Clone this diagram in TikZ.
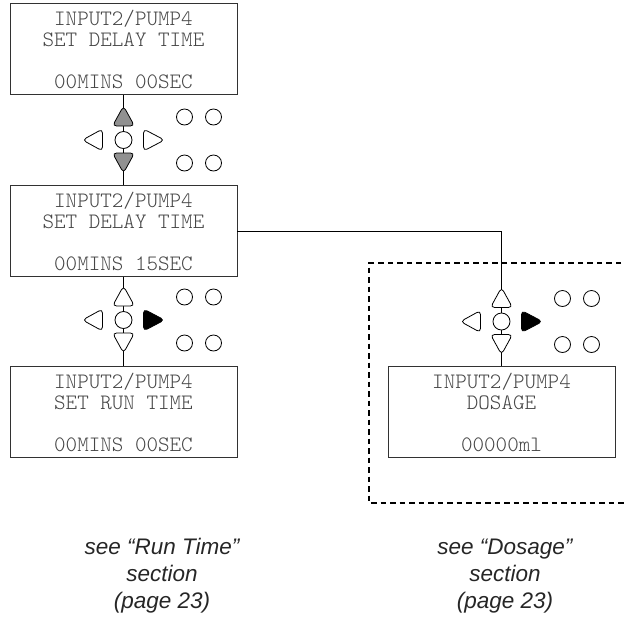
\documentclass[tikz,border=0pt]{standalone}
\usepackage{fontspec}
\usepackage{tikz}
\usetikzlibrary{positioning}
\usepackage{xcolor}
\newfontfamily\lcdfont{lmmonolt10-regular.otf}
\newfontfamily\capfont{Liberation Sans}
\definecolor{lcdtext}{RGB}{70,70,70}
\definecolor{lcdframe}{RGB}{50,50,50}
\definecolor{keygray}{RGB}{145,145,145}
\tikzstyle{lcd} = [draw=lcdframe, line width=0.8pt, fill=white, minimum width=227pt, minimum height=91pt, align=center, text=lcdtext, font=\lcdfont\fontsize{22}{21}\selectfont]
\tikzstyle{key} = [draw=black, line width=0.8pt, rounded corners=4pt]
\tikzstyle{wire} = [draw=black, line width=0.8pt]
\tikzstyle{caption} = [align=center, text=black!85, font=\capfont\itshape\fontsize{22.5}{27}\selectfont]
% keypad: centre, up fill, down fill, right fill
\newcommand{\keypad}[4]{%
\begin{scope}[shift={#1}]
\draw[key,fill=#2] (0,-34) -- (11,-14) -- (-11,-14) -- cycle;
\draw[key,fill=#3] (0,33) -- (11,13) -- (-11,13) -- cycle;
\draw[key,fill=white] (-41,0) -- (-21,-11) -- (-21,11) -- cycle;
\draw[key,fill=#4] (41,0) -- (20,-11) -- (20,11) -- cycle;
\draw[key,fill=white] (0,0) circle (8.5);
\foreach \kx in {61,90} {
  \draw[key] (\kx,-23) circle (8);
  \draw[key] (\kx,23) circle (8);
}
\end{scope}}

\begin{document}
\begin{tikzpicture}[x=1pt, y=-1pt]
\useasboundingbox (0,0) rectangle (625,622);

% Screens
\node[lcd] (delay0) at (123.5,49) {INPUT2/PUMP4\\SET DELAY TIME\\\mbox{}\\00MINS 00SEC};
\node[lcd] (delay15) at (123.5,231) {INPUT2/PUMP4\\SET DELAY TIME\\\mbox{}\\00MINS 15SEC};
\node[lcd] (runtime) at (123.5,412) {INPUT2/PUMP4\\SET RUN TIME\\\mbox{}\\00MINS 00SEC};
\node[lcd] (dosage) at (501.5,412) {INPUT2/PUMP4\\DOSAGE\\\mbox{}\\00000ml};

% Dotted frame round the dosage branch
\draw[line width=2.6pt, dash pattern=on 5.5pt off 4pt] (640,263) -| (369,503) -- (640,503);

% Links
\draw[wire] (delay0) -- (delay15);
\draw[wire] (delay15) -- (runtime);
\draw[wire] (delay15.east) -| (dosage.north);

% Keypads
\keypad{(123.5,140)}{keygray}{keygray}{white}
\keypad{(123.5,320)}{white}{white}{black}
\keypad{(501.5,321.5)}{white}{white}{black}

% Labels
\node[caption] (runcap) at (162,576) {see “Run Time”\\section\\(page 23)};
\node[caption] (dosecap) at (505,576) {see “Dosage”\\section\\(page 23)};
\end{tikzpicture}
\end{document}
